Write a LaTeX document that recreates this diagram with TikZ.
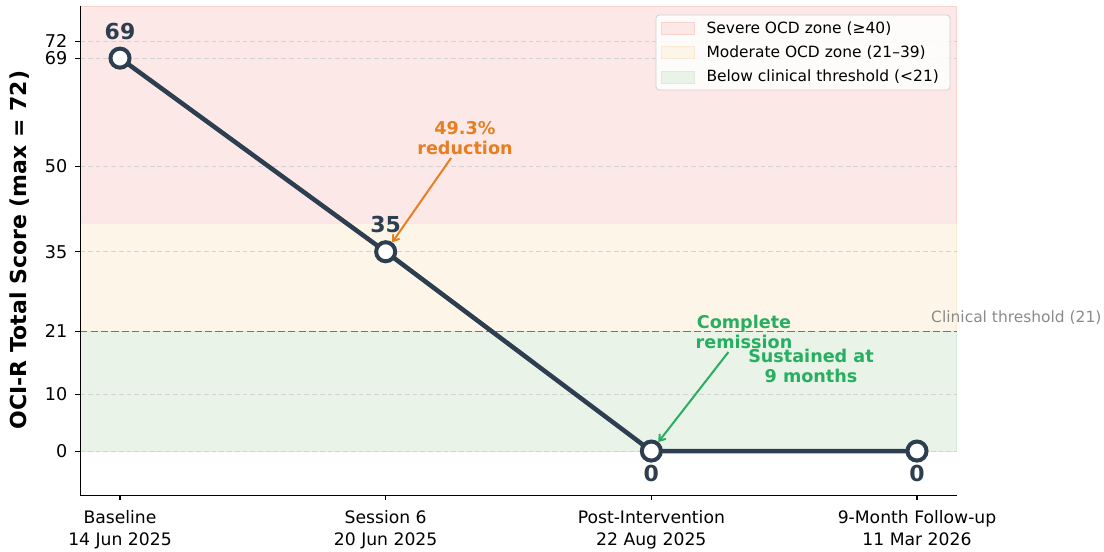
\documentclass[tikz,border=0pt]{standalone}
\usepackage{fontspec}
\setmainfont{DejaVu Sans}
\usepackage{tikz}
\usetikzlibrary{arrows.meta,positioning}
\definecolor{Navy}{HTML}{2C3E50}
\definecolor{Orng}{HTML}{E67E22}
\definecolor{Grn}{HTML}{27AE60}
\definecolor{SevBand}{HTML}{FDE8E8}
\definecolor{SevEdge}{HTML}{FAD3D0}
\definecolor{ModBand}{HTML}{FEF5E9}
\definecolor{ModEdge}{HTML}{FCE9D2}
\definecolor{LowBand}{HTML}{E9F3E8}
\definecolor{LowEdge}{HTML}{D9EDD9}
\definecolor{GridGray}{HTML}{D2D2D2}
\definecolor{ThrGray}{HTML}{747474}
\definecolor{ThrText}{HTML}{8A8A8A}
\definecolor{LegEdge}{HTML}{D0D0D0}

\begin{document}
\begin{tikzpicture}[
    x=199.25pt, y=4.2708pt,
    gridln/.style={draw=GridGray, line width=0.6pt, dash pattern=on 3.6pt off 2.2pt},
    thrln/.style={draw=ThrGray, line width=1.4pt, dash pattern=on 5.5pt off 2.3pt},
    spine/.style={line width=0.8pt, black},
    ytick/.style={anchor=east, inner sep=0, xshift=-9.5pt, font=\fontsize{13.2}{15}\selectfont},
    xtick/.style={anchor=north, inner sep=0, yshift=-11pt, align=center, font=\fontsize{12.9}{16.5}\selectfont},
    marker/.style={circle, draw=Navy, fill=white, line width=3pt, minimum size=14.3pt, inner sep=0},
    vallbl/.style={text=Navy, font=\fontsize{16.5}{18}\selectfont\bfseries, inner sep=0},
    note/.style={align=center, font=\fontsize{13.2}{15.5}\selectfont\bfseries, inner sep=2pt},
    oarr/.style={draw=Orng, line width=1.5pt, -{Straight Barb[length=4pt,width=6pt]}},
    garr/.style={draw=Grn, line width=1.5pt, -{Straight Barb[length=4pt,width=6pt]}},
    swatch/.style={minimum width=24.75pt, minimum height=9pt, inner sep=0, line width=0.5pt},
    legtext/.style={inner sep=0, anchor=west, font=\fontsize{11.6}{14}\selectfont}
]
\useasboundingbox (-0.4517,-17.56) rectangle (3.7039,79.21);

% zones
\path[fill=SevBand, draw=SevEdge, line width=0.6pt] (-0.15,40) rectangle (3.15,78.15);
\path[fill=ModBand, draw=ModEdge, line width=0.6pt] (-0.15,21) rectangle (3.15,40);
\path[fill=LowBand, draw=LowEdge, line width=0.6pt] (-0.15,0) rectangle (3.15,21);

% grid and threshold
\foreach \v in {0,10,35,50,69,72}
  \draw[gridln] (-0.15,\v) -- (3.15,\v);
\draw[thrln] (-0.15,21) -- (3.15,21);
\node[anchor=west, inner sep=0, text=ThrText, font=\fontsize{11.6}{14}\selectfont] (thrlbl) at (3.0526,23.36) {Clinical threshold (21)};

% axes
\draw[spine] (-0.15,78.15) -- (-0.15,-7.73) -- (3.15,-7.73);
\foreach \v in {0,10,21,35,50,69,72} {
  \draw[spine] (-0.15,\v) -- ++(-3.5pt,0);
  \node[ytick] (yt\v) at (-0.15,\v) {\v};
}
\foreach \i/\a/\b in {0/{Baseline}/{14 Jun 2025}, 1/{Session 6}/{20 Jun 2025}, 2/{Post-Intervention}/{22 Aug 2025}, 3/{9-Month Follow-up}/{11 Mar 2026}} {
  \draw[spine] (\i,-7.73) -- ++(0,-3.5pt);
  \node[xtick] (xt\i) at (\i,-7.73) {\a\\\b};
}
\node[rotate=90, inner sep=0, font=\fontsize{16.5}{18}\selectfont\bfseries] (ylab) at (-0.3764,35.3) {OCI-R Total Score (max = 72)};

% scores
\coordinate (p0) at (0,69);
\coordinate (p1) at (1,35);
\coordinate (p2) at (2,0);
\coordinate (p3) at (3,0);
\draw[Navy, line width=3.4pt] (p0) -- (p1) -- (p2) -- (p3);
\foreach \i in {0,...,3}
  \node[marker] (m\i) at (p\i) {};
\node[vallbl] (v0) at ([yshift=20.25pt]p0) {69};
\node[vallbl] (v1) at ([yshift=20.25pt]p1) {35};
\node[vallbl] (v2) at ([yshift=-16.5pt]p2) {0};
\node[vallbl] (v3) at ([yshift=-16.5pt]p3) {0};

% annotations
\node[note, text=Orng] (redn) at (1.2986,54.97) {49.3\%\\reduction};
\draw[oarr] (redn) -- (m1);
\node[note, text=Grn] (remn) at (2.3488,20.9) {Complete\\remission};
\draw[garr] (remn) -- (m2);
\node[note, text=Grn] (sust) at (2.601,14.93) {Sustained at\\9 months};

% legend
\node[draw=LegEdge, fill=white, fill opacity=0.85, rounded corners=2.5pt, minimum width=220.5pt, minimum height=56.25pt, line width=0.6pt] (legend) at (2.5709,69.99) {};
\node[swatch, fill=SevBand, draw=SevEdge, below right=5.5pt and 3.75pt of legend.north west] (sw1) {};
\node[swatch, fill=ModBand, draw=ModEdge, below=8.8pt of sw1] (sw2) {};
\node[swatch, fill=LowBand, draw=LowEdge, below=8.8pt of sw2] (sw3) {};
\node[legtext, right=9pt of sw1] (lg1) {Severe OCD zone (≥40)};
\node[legtext, right=9pt of sw2] (lg2) {Moderate OCD zone (21–39)};
\node[legtext, right=9pt of sw3] (lg3) {Below clinical threshold (<21)};
\end{tikzpicture}
\end{document}
